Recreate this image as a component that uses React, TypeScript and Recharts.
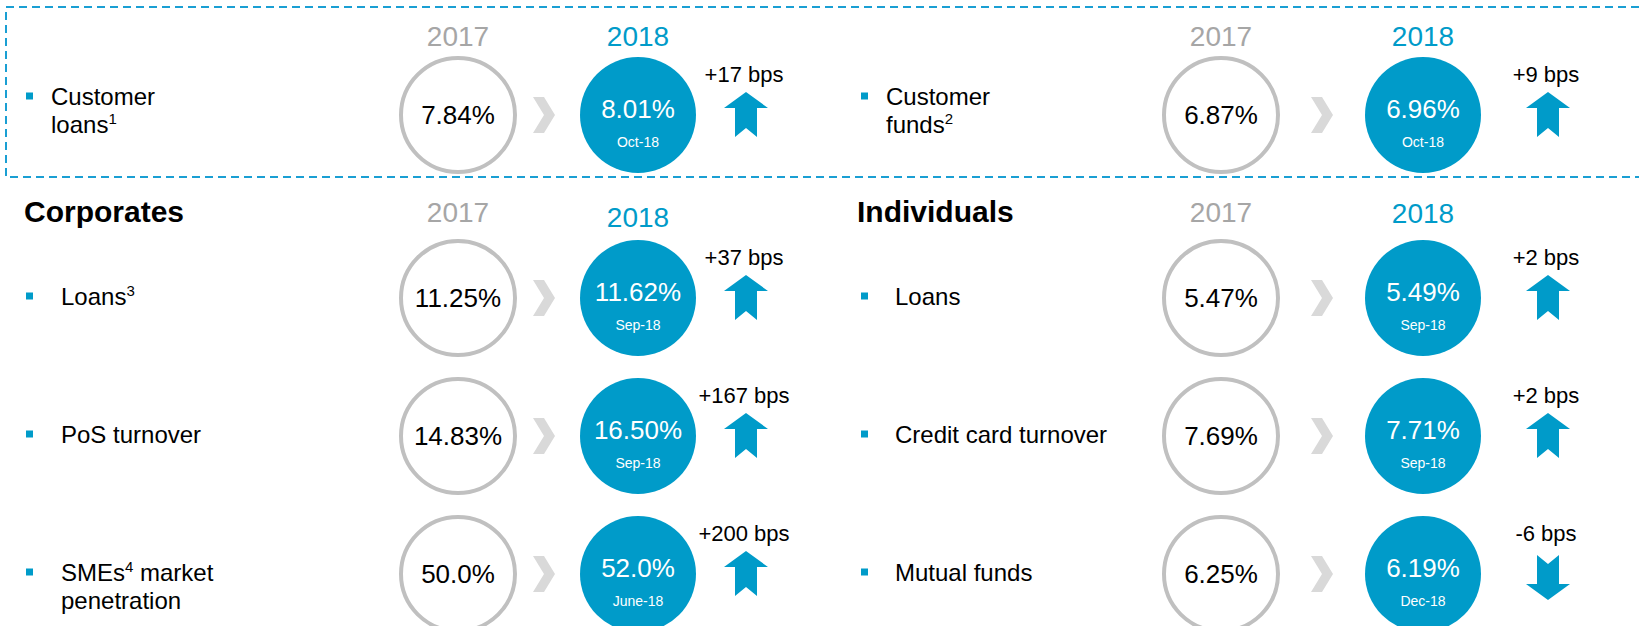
import { Scatter, ScatterChart, XAxis, YAxis } from "recharts";

const years = ["2017", "2018"];

// dashed box on top: customer loans (left) and customer funds (right)
const boxMetrics = ["Customer\nloans^1", "Customer\nfunds^2"];
const box2017 = [7.84, 6.87];
const box2018 = [8.01, 6.96];
const boxAsOf = ["Oct-18", "Oct-18"];
const boxBps = [17, 9];

const corporateMetrics = ["Loans^3", "PoS turnover", "SMEs^4 market\npenetration"];
const corporate2017 = [11.25, 14.83, 50.0];
const corporate2018 = [11.62, 16.5, 52.0];
const corporateDecimals = [2, 2, 1];
const corporateAsOf = ["Sep-18", "Sep-18", "June-18"];
const corporateBps = [37, 167, 200];

const individualMetrics = ["Loans", "Credit card turnover", "Mutual funds"];
const individual2017 = [5.47, 7.69, 6.25];
const individual2018 = [5.49, 7.71, 6.19];
const individualDecimals = [2, 2, 2];
const individualAsOf = ["Sep-18", "Sep-18", "Dec-18"];
const individualBps = [2, 2, -6];

const BLUE = "#009bc9";
const FONT = "'Liberation Sans', Arial, sans-serif";

const pct = (v: number, d: number) => v.toFixed(d) + "%";
const bpsText = (b: number) => (b > 0 ? "+" : "") + b + " bps";

// "loans^1" -> loans with a superscript 1
function renderLine(line: string) {
  const parts = line.split("^");
  const out = [<tspan key="p0">{parts[0]}</tspan>];
  for (let i = 1; i < parts.length; i++) {
    out.push(
      <tspan key={"s" + i} fontSize={15} dy={-9}>
        {parts[i][0]}
      </tspan>
    );
    if (parts[i].length > 1) {
      out.push(
        <tspan key={"r" + i} dy={9}>
          {parts[i].slice(1)}
        </tspan>
      );
    }
  }
  return out;
}

const OldShape = (p: any) => {
  const { cx, cy } = p;
  const d = p.payload ?? p;
  return (
    <g>
      <circle cx={cx} cy={cy} r={57} fill="#fff" stroke="#c0c0c0" strokeWidth={4} />
      <text x={cx} y={cy + 9} textAnchor="middle" fontSize={26} fill="#000" fontFamily={FONT}>
        {d.text}
      </text>
    </g>
  );
};

const arrowPts = [
  [0, -23],
  [22, -7],
  [11, -7],
  [11, 22],
  [0, 13],
  [-11, 22],
  [-11, -7],
  [-22, -7],
];
const chevronPts = [
  [-11, -18],
  [0, -18],
  [11, 0],
  [0, 18],
  [-11, 18],
  [0, 0],
];

const makeNewShape = (chevronGap: number, arrowGap: number) => (p: any) => {
  const { cx, cy } = p;
  const d = p.payload ?? p;
  const s = d.bps >= 0 ? 1 : -1;
  const ax = cx + arrowGap;
  const chx = cx - chevronGap;
  const ay = s > 0 ? cy : cy + 3;
  return (
    <g>
      <polygon
        points={chevronPts.map(([x, y]) => `${chx + x},${cy + y}`).join(" ")}
        fill="#d9d9d9"
      />
      <circle cx={cx} cy={cy} r={58} fill={BLUE} />
      <text x={cx} y={cy + 3} textAnchor="middle" fontSize={26} fill="#fff" fontFamily={FONT}>
        {d.text}
      </text>
      <text x={cx} y={cy + 32} textAnchor="middle" fontSize={14} fill="#fff" fontFamily={FONT}>
        {d.asOf}
      </text>
      <text x={ax - 2} y={cy - 33} textAnchor="middle" fontSize={22} fill="#000" fontFamily={FONT}>
        {bpsText(d.bps)}
      </text>
      <polygon
        points={arrowPts.map(([x, y]) => `${ax + x},${ay + y * s}`).join(" ")}
        fill={BLUE}
      />
    </g>
  );
};

type PanelProps = {
  metrics: string[];
  before: number[];
  after: number[];
  decimals: number[];
  asOf: string[];
  bps: number[];
  left: number;
  top: number;
  width: number;
  height: number;
  axisWidth: number;
  axisHeight: number;
  marginRight: number;
  marginBottom: number;
  bulletX: number;
  labelX: number;
  centered: boolean;
  yearY: number[];
  chevronGap: number;
  arrowGap: number;
  title?: string;
  titleX?: number;
};

function Panel(props: PanelProps) {
  const n = props.metrics.length;
  const rows = props.metrics.map((_, i) => i);
  const oldData = rows.map((i) => ({
    col: 0,
    row: i,
    text: pct(props.before[i], props.decimals[i]),
  }));
  const newData = rows.map((i) => ({
    col: 1,
    row: i,
    text: pct(props.after[i], props.decimals[i]),
    asOf: props.asOf[i],
    bps: props.bps[i],
  }));

  const yearTick = (t: any) => {
    const v = t.payload.value;
    return (
      <text
        key={"y" + v}
        x={t.x}
        y={props.yearY[v]}
        textAnchor="middle"
        fontSize={28}
        fontFamily={FONT}
        fill={v === 0 ? "#a6a6a6" : BLUE}
      >
        {years[v]}
      </text>
    );
  };

  const metricTick = (t: any) => {
    const lines = props.metrics[t.payload.value].split("\n");
    const first = props.centered ? t.y + 4 - (lines.length - 1) * 14 : t.y + 7;
    return (
      <g key={"m" + t.payload.value}>
        <rect x={props.bulletX} y={first - 12.5} width={7} height={7} fill={BLUE} />
        {lines.map((l, k) => (
          <text
            key={k}
            x={props.labelX}
            y={first + k * 28}
            fontSize={24}
            fontFamily={FONT}
            fill="#000"
          >
            {renderLine(l)}
          </text>
        ))}
      </g>
    );
  };

  return (
    <div style={{ position: "absolute", left: props.left, top: props.top }}>
      <ScatterChart
        width={props.width}
        height={props.height}
        margin={{ top: 0, right: props.marginRight, bottom: props.marginBottom, left: 0 }}
      >
        <XAxis
          type="number"
          dataKey="col"
          domain={[-0.5, 1.5]}
          ticks={[0, 1]}
          orientation="top"
          height={props.axisHeight}
          axisLine={false}
          tickLine={false}
          interval={0}
          tick={yearTick}
        />
        <YAxis
          type="number"
          dataKey="row"
          domain={[-0.5, n - 0.5]}
          reversed
          ticks={rows}
          width={props.axisWidth}
          axisLine={false}
          tickLine={false}
          interval={0}
          tick={metricTick}
        />
        <Scatter data={oldData} shape={OldShape} isAnimationActive={false} />
        <Scatter
          data={newData}
          shape={makeNewShape(props.chevronGap, props.arrowGap)}
          isAnimationActive={false}
        />
        {props.title && (
          <text
            x={props.titleX}
            y={37}
            fontSize={30}
            fontWeight="bold"
            fontFamily={FONT}
            fill="#000"
          >
            {props.title}
          </text>
        )}
      </ScatterChart>
    </div>
  );
}

export default function App() {
  const leftGeo = { left: 0, width: 820, axisWidth: 368, marginRight: 92, chevronGap: 94, arrowGap: 108 };
  const rightGeo = { left: 820, width: 819, axisWidth: 300, marginRight: 115, chevronGap: 101, arrowGap: 125 };
  const topGeo = { top: 0, height: 185, axisHeight: 60, marginBottom: 15, centered: true, yearY: [46, 46] };
  const bottomGeo = { top: 185, height: 480, axisHeight: 44, marginBottom: 22, centered: false };

  return (
    <div
      style={{
        position: "absolute",
        left: 0,
        top: 0,
        width: 1639,
        height: 626,
        overflow: "hidden",
        background: "#fff",
        fontFamily: FONT,
      }}
    >
      <svg width={1639} height={185} style={{ position: "absolute", left: 0, top: 0 }}>
        <rect
          x={6}
          y={7}
          width={1650}
          height={170}
          fill="none"
          stroke="#1a9fd3"
          strokeWidth={2}
          strokeDasharray="8 5"
        />
      </svg>
      <Panel
        {...leftGeo}
        {...topGeo}
        metrics={[boxMetrics[0]]}
        before={[box2017[0]]}
        after={[box2018[0]]}
        decimals={[2]}
        asOf={[boxAsOf[0]]}
        bps={[boxBps[0]]}
        bulletX={26}
        labelX={51}
      />
      <Panel
        {...rightGeo}
        {...topGeo}
        metrics={[boxMetrics[1]]}
        before={[box2017[1]]}
        after={[box2018[1]]}
        decimals={[2]}
        asOf={[boxAsOf[1]]}
        bps={[boxBps[1]]}
        bulletX={41}
        labelX={66}
      />
      <Panel
        {...leftGeo}
        {...bottomGeo}
        yearY={[37, 42]}
        metrics={corporateMetrics}
        before={corporate2017}
        after={corporate2018}
        decimals={corporateDecimals}
        asOf={corporateAsOf}
        bps={corporateBps}
        bulletX={26}
        labelX={61}
        title="Corporates"
        titleX={24}
      />
      <Panel
        {...rightGeo}
        {...bottomGeo}
        yearY={[37, 38]}
        metrics={individualMetrics}
        before={individual2017}
        after={individual2018}
        decimals={individualDecimals}
        asOf={individualAsOf}
        bps={individualBps}
        bulletX={41}
        labelX={75}
        title="Individuals"
        titleX={37}
      />
    </div>
  );
}
